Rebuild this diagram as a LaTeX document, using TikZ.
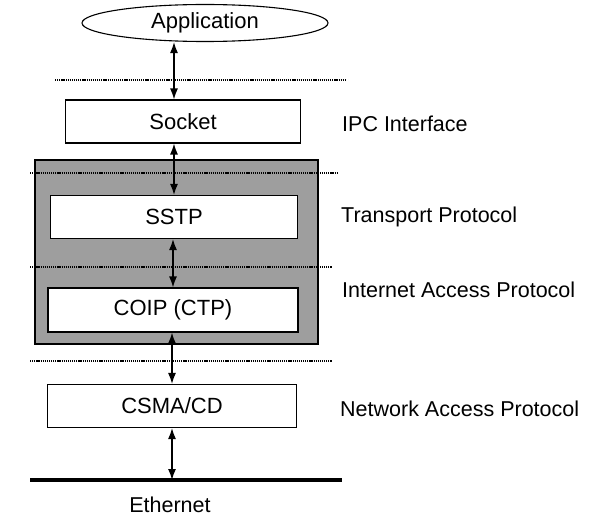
\documentclass[tikz,border=0pt]{standalone}
\usepackage{fontspec}
\setmainfont{Liberation Sans}
\usetikzlibrary{arrows.meta,shapes.geometric}
\begin{document}
\begin{tikzpicture}[x=1pt,y=-1pt,
  layerbox/.style={draw,line width=1.1pt,fill=white,minimum width=247pt,minimum height=43pt,inner sep=0pt,font=\fontsize{22}{26}\selectfont},
  lbl/.style={anchor=west,inner sep=0pt,font=\fontsize{21.5}{26}\selectfont},
  sep/.style={dash pattern=on 1.2pt off 0.9pt,line width=1.4pt},
  link/.style={line width=1.4pt,{Latex[length=11pt,width=8pt]}-{Latex[length=11pt,width=8pt]}}]
\useasboundingbox (0,0) rectangle (589,516);
% gray frame
\draw[line width=1.4pt,fill=black!38] (35,160) rectangle (318,344);
% separators
\draw[sep] (55,80) -- (345,80);
\draw[sep] (30,173) -- (338,173);
\draw[sep] (30,267) -- (332,267);
\draw[sep] (30,361) -- (332,361);
% nodes
\node[draw,line width=1.1pt,ellipse,minimum width=246pt,minimum height=37pt,inner sep=0pt,font=\fontsize{22}{26}\selectfont] (app) at (205,23) {Application};
\node[layerbox,minimum width=235pt] (sock) at (183,121.5) {Socket};
\node[layerbox] (sstp) at (174,217) {SSTP};
\node[layerbox,minimum height=44pt,minimum width=250pt] (coip) at (173,310) {COIP (CTP)};
\node[layerbox,minimum width=249pt] (csma) at (172,406) {CSMA/CD};
\coordinate (ethL) at (30,480);
\coordinate (ethR) at (342,480);
\draw[line width=4pt] (ethL) -- (ethR);
\node[inner sep=0pt,font=\fontsize{21.5}{26}\selectfont] (eth) at (170,505) {Ethernet};
% labels
\node[lbl] (ipc) at (342,124) {IPC Interface};
\node[lbl] (tp) at (341,217) {Transport Protocol};
\node[lbl] (iap) at (342,290) {Internet Access Protocol};
\node[lbl] (nap) at (340,409) {Network Access Protocol};
% links
\draw[link] (app.south -| 174,0) -- (sock.north -| 174,0);
\draw[link] (sock.south -| 174,0) -- (sstp.north -| 174,0);
\draw[link] (sstp.south -| 173,0) -- (coip.north -| 173,0);
\draw[link] (coip.south -| 172,0) -- (csma.north -| 172,0);
\draw[link] (csma.south -| 172,0) -- (ethL -| 172,0);
\end{tikzpicture}
\end{document}
